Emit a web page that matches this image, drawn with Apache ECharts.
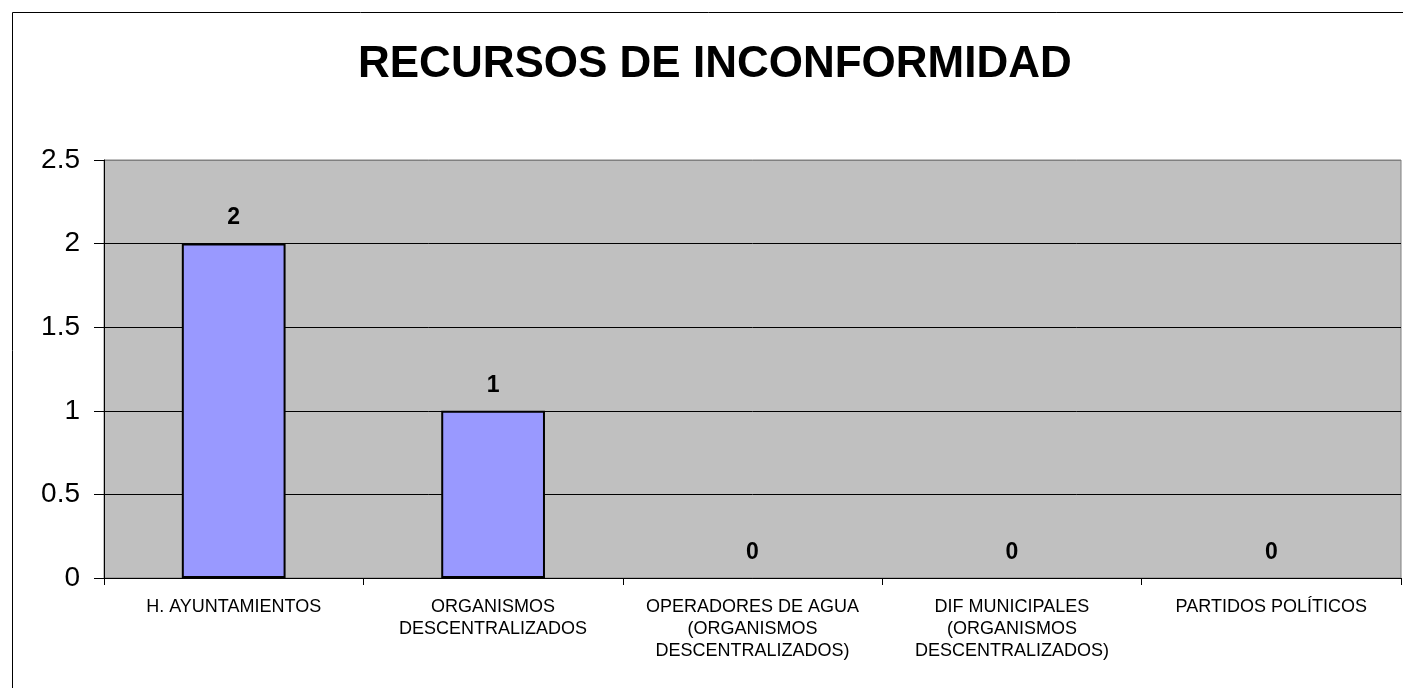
<!DOCTYPE html>
<html>
<head>
<meta charset="utf-8">
<script src="https://cdn.jsdelivr.net/npm/echarts@6/dist/echarts.min.js"></script>
<style>
  html, body { margin: 0; padding: 0; background: #fff; }
  #chart { width: 1403px; height: 688px; }
</style>
</head>
<body>
<div id="chart"></div>
<script>
var dom = document.getElementById('chart');
var myChart = echarts.init(dom, null, { renderer: 'canvas' });

// datos
const categorias = [
    'H. AYUNTAMIENTOS',
    'ORGANISMOS\nDESCENTRALIZADOS',
    'OPERADORES DE AGUA\n(ORGANISMOS\nDESCENTRALIZADOS)',
    'DIF MUNICIPALES\n(ORGANISMOS\nDESCENTRALIZADOS)',
    'PARTIDOS POLÍTICOS'
];
const recursos = [2, 1, 0, 0, 0];
const titulo = 'RECURSOS DE INCONFORMIDAD';

const fuente = '"Liberation Sans", Arial, sans-serif';

// las barras en cero no llevan borde visible
const datosBarras = recursos.map(function (v) {
    return v === 0 ? { value: v, itemStyle: { borderWidth: 0 } } : v;
});

var option = {
    animation: false,
    backgroundColor: '#ffffff',
    title: {
        text: titulo,
        left: 358,
        top: 43,
        padding: 0,
        textStyle: {
            fontFamily: fuente,
            fontSize: 44,
            fontWeight: 'bold',
            color: '#000'
        }
    },
    // marco exterior del grafico
    graphic: [{
        type: 'rect',
        left: 10,
        top: 10,
        shape: { width: 1400, height: 700 },
        style: { fill: 'none', stroke: '#000', lineWidth: 1 },
        silent: true
    }],
    grid: {
        left: 104,
        right: 2,
        top: 160,
        bottom: 110,
        show: true,
        backgroundColor: '#c0c0c0',
        borderColor: '#808080',
        borderWidth: 1
    },
    xAxis: {
        type: 'category',
        data: categorias,
        axisLine: { show: true, lineStyle: { color: '#000', width: 1 } },
        axisTick: { show: true, length: 7, lineStyle: { color: '#000' } },
        axisLabel: {
            interval: 0,
            margin: 18,
            fontFamily: fuente,
            fontSize: 18,
            lineHeight: 22,
            color: '#000',
            align: 'center',
            verticalAlign: 'top'
        },
        splitLine: { show: false }
    },
    yAxis: {
        type: 'value',
        min: 0,
        max: 2.5,
        interval: 0.5,
        axisLine: { show: true, lineStyle: { color: '#000', width: 1 } },
        axisTick: { show: true, length: 10, lineStyle: { color: '#000' } },
        axisLabel: {
            margin: 24,
            fontFamily: fuente,
            fontSize: 28,
            color: '#000'
        },
        splitLine: {
            show: true,
            lineStyle: {
                color: ['#000', '#000', '#000', '#000', '#000', '#808080'],
                width: 1
            }
        }
    },
    series: [{
        type: 'bar',
        data: datosBarras,
        barCategoryGap: '60%',
        itemStyle: {
            color: '#9999ff',
            borderColor: '#000',
            borderWidth: 2
        },
        label: {
            show: true,
            position: 'top',
            distance: 14,
            fontFamily: fuente,
            fontSize: 23,
            fontWeight: 'bold',
            color: '#000'
        }
    }]
};

myChart.setOption(option);
window.addEventListener('resize', myChart.resize);
</script>
</body>
</html>
